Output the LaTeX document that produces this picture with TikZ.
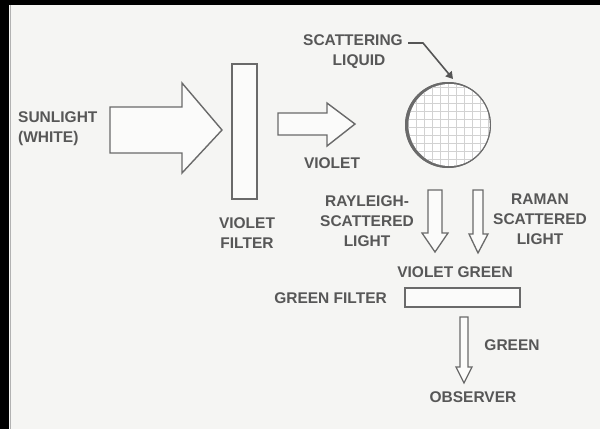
\documentclass[tikz,border=0pt]{standalone}
\usepackage{fontspec}
\setmainfont{Liberation Sans}
\usetikzlibrary{arrows.meta}
\definecolor{bg}{HTML}{F5F5F3}
\definecolor{ink}{HTML}{575757}
\definecolor{edge}{HTML}{6A6A6A}
\definecolor{gridc}{HTML}{D2D2D2}
\begin{document}
\begin{tikzpicture}[x=1pt,y=-1pt,
  lbl/.style={text=ink,font=\fontsize{15.5}{20}\selectfont\bfseries,inner sep=0pt,align=center},
  blk/.style={draw=edge,line width=1.4pt,fill=white!60!bg,line join=miter},
  lead/.style={draw=edge!80!black,line width=1.6pt,-{Triangle[length=7pt,width=8pt]}}]
\useasboundingbox (0,0) rectangle (600,429);
\fill[bg] (0,0) rectangle (600,429);
\fill[black] (0,0) rectangle (600,5);
\fill[black] (0,0) rectangle (9,429);
\draw[gray!60,line width=1pt] (10,5) -- (10,429);
% sunlight arrow
\draw[blk] (110,107) -- (182,107) -- (182,83) -- (222,130) -- (182,173) -- (182,153) -- (110,153) -- cycle;
\node[lbl,align=left,anchor=west] (sun) at (18,129) {SUNLIGHT\\(WHITE)};
% violet filter
\draw[blk] (232,64) rectangle (257,199);
\node[lbl] (vf) at (247,233) {VIOLET\\FILTER};
% violet arrow
\draw[blk] (278,113) -- (327,113) -- (327,103) -- (355,124) -- (327,146) -- (327,135) -- (278,135) -- cycle;
\node[lbl] (vio) at (332,163) {VIOLET};
% scattering liquid
\coordinate (c) at (448,125);
\coordinate (ci) at (449.5,125);
\fill[edge] (c) circle (43);
\fill[white] (ci) circle (41);
\begin{scope}
\clip (ci) circle (41);
\foreach \i in {0,...,12} {
  \draw[gridc,line width=0.6pt] (400+8*\i,80) -- (400+8*\i,170);
  \draw[gridc,line width=0.6pt] (400,79+8*\i) -- (500,79+8*\i);
}
\end{scope}
\draw[edge,line width=1.1pt] (c) circle (42.4);
\node[lbl] (sl1) at (353,40) {SCATTERING};
\node[lbl] (sl2) at (359,62) {LIQUID};
\coordinate (l0) at (408,43);
\coordinate (l1) at (423,43);
\coordinate (l2) at (453,79);
\draw[lead] (l0) -- (l1) -- (l2);
% scattered arrows
\draw[blk,line width=1.3pt] (428,190) -- (442,190) -- (442,233) -- (448,233) -- (435,252) -- (422,233) -- (428,233) -- cycle;
\draw[blk,line width=1.3pt] (473,190) -- (483,190) -- (483,234) -- (488,234) -- (478,253) -- (469,234) -- (473,234) -- cycle;
\node[lbl] (ray) at (367,221) {RAYLEIGH-\\SCATTERED\\LIGHT};
\node[lbl] (ram) at (540,219) {RAMAN\\SCATTERED\\LIGHT};
\node[lbl] (vg) at (455,272) {VIOLET GREEN};
% green filter
\draw[blk] (405,288) rectangle (520,307);
\node[lbl,anchor=east] (gf) at (387,298) {GREEN FILTER};
% green arrow
\draw[blk,line width=1.3pt] (460,317) -- (468,317) -- (468,367) -- (472,367) -- (464,383) -- (456,367) -- (460,367) -- cycle;
\node[lbl] (gr) at (512,345) {GREEN};
\node[lbl] (obs) at (473,397) {OBSERVER};
\end{tikzpicture}
\end{document}
